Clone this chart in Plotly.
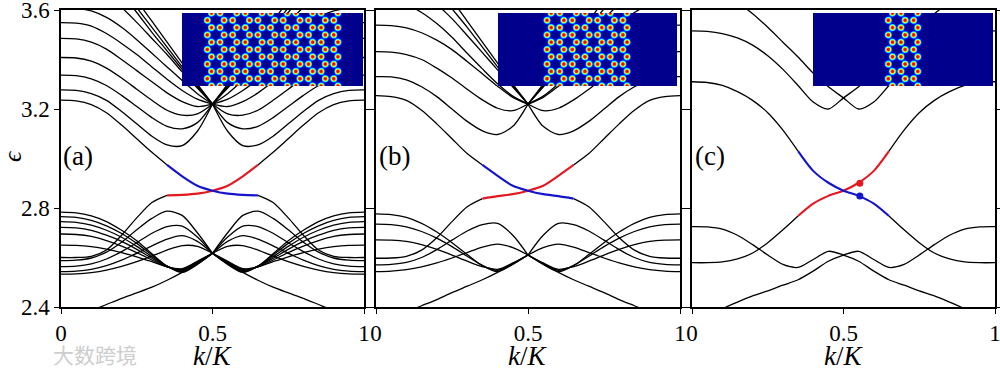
import numpy as np
import plotly.graph_objects as go

# ---------------- data ----------------
K_HALF = [0.0, 0.05, 0.1, 0.15, 0.2, 0.25, 0.3, 0.35, 0.4, 0.45, 0.5]
K_FULL = [0.0, 0.05, 0.1, 0.15, 0.2, 0.25, 0.3, 0.35, 0.4, 0.45, 0.5,
          0.55, 0.6, 0.65, 0.7, 0.75, 0.8, 0.85, 0.9, 0.95, 1.0]

# panel (a): bulk bands, left half (mirrored about k=0.5)
A_UPPER = [
    [3.277, 3.275, 3.262, 3.235, 3.19, 3.14, 3.09, 3.055, 3.052, 3.11, 3.22],
    [3.337, 3.335, 3.322, 3.295, 3.255, 3.21, 3.165, 3.13, 3.12, 3.145, 3.22],
    [3.408, 3.406, 3.393, 3.365, 3.325, 3.28, 3.235, 3.195, 3.175, 3.18, 3.22],
    [3.485, 3.483, 3.47, 3.442, 3.40, 3.355, 3.31, 3.265, 3.23, 3.21, 3.22],
    [3.549, 3.547, 3.535, 3.505, 3.465, 3.42, 3.37, 3.32, 3.275, 3.24, 3.22],
    [3.61, 3.607, 3.596, 3.57, 3.53, 3.48, 3.425, 3.37, 3.315, 3.262, 3.22],
    [3.70, 3.697, 3.685, 3.655, 3.61, 3.55, 3.485, 3.42, 3.35, 3.285, 3.22],
    [3.80, 3.79, 3.77, 3.73, 3.665, 3.59, 3.51, 3.435, 3.36, 3.29, 3.22],
    [3.85, 3.84, 3.82, 3.78, 3.70, 3.61, 3.53, 3.45, 3.37, 3.295, 3.22],
    [3.90, 3.89, 3.87, 3.83, 3.74, 3.64, 3.555, 3.47, 3.385, 3.30, 3.22],
]
A_LOWER = [
    [2.783, 2.780, 2.768, 2.745, 2.71, 2.668, 2.615, 2.565, 2.54, 2.572, 2.617],
    [2.765, 2.762, 2.75, 2.728, 2.697, 2.657, 2.61, 2.565, 2.543, 2.575, 2.617],
    [2.745, 2.742, 2.731, 2.71, 2.682, 2.645, 2.603, 2.565, 2.547, 2.578, 2.617],
    [2.722, 2.72, 2.71, 2.69, 2.665, 2.633, 2.597, 2.563, 2.55, 2.58, 2.617],
    [2.695, 2.693, 2.685, 2.668, 2.646, 2.62, 2.59, 2.562, 2.553, 2.583, 2.617],
    [2.650, 2.649, 2.644, 2.634, 2.62, 2.603, 2.583, 2.562, 2.555, 2.585, 2.617],
    [2.587, 2.589, 2.598, 2.622, 2.662, 2.712, 2.758, 2.787, 2.77, 2.70, 2.617],
    [2.563, 2.565, 2.574, 2.594, 2.624, 2.66, 2.698, 2.725, 2.727, 2.683, 2.617],
    [2.543, 2.545, 2.552, 2.567, 2.589, 2.617, 2.647, 2.674, 2.688, 2.665, 2.617],
    [2.533, 2.534, 2.539, 2.549, 2.564, 2.583, 2.606, 2.63, 2.648, 2.645, 2.617],
    [2.33, 2.35, 2.385, 2.41, 2.435, 2.457, 2.48, 2.508, 2.54, 2.575, 2.617],
]
# edge state rising with k (red); the falling one (blue) is its mirror
A_EDGE = [2.60, 2.60, 2.605, 2.63, 2.69, 2.76, 2.822, 2.851, 2.853, 2.858, 2.870,
          2.89, 2.928, 2.974, 3.025, 3.08, 3.135, 3.185, 3.218, 3.233, 3.236]

# panel (b)
B_UPPER = [
    [3.331, 3.33, 3.318, 3.29, 3.25, 3.20, 3.15, 3.112, 3.097, 3.13, 3.22],
    [3.432, 3.43, 3.42, 3.40, 3.365, 3.325, 3.28, 3.237, 3.203, 3.193, 3.22],
    [3.539, 3.537, 3.528, 3.508, 3.478, 3.44, 3.392, 3.342, 3.292, 3.247, 3.22],
    [3.64, 3.636, 3.622, 3.59, 3.545, 3.49, 3.425, 3.362, 3.302, 3.252, 3.22],
    [3.78, 3.77, 3.75, 3.70, 3.625, 3.565, 3.497, 3.428, 3.358, 3.289, 3.22],
    [3.82, 3.81, 3.79, 3.75, 3.68, 3.605, 3.53, 3.45, 3.37, 3.295, 3.22],
    [3.87, 3.86, 3.84, 3.80, 3.72, 3.64, 3.555, 3.47, 3.385, 3.30, 3.22],
]
B_LOWER = [
    [2.776, 2.773, 2.762, 2.738, 2.703, 2.66, 2.612, 2.567, 2.543, 2.572, 2.61],
    [2.735, 2.733, 2.724, 2.705, 2.678, 2.644, 2.605, 2.568, 2.548, 2.575, 2.61],
    [2.671, 2.67, 2.665, 2.652, 2.633, 2.61, 2.585, 2.563, 2.552, 2.578, 2.61],
    [2.570, 2.572, 2.58, 2.60, 2.632, 2.67, 2.707, 2.733, 2.738, 2.69, 2.61],
    [2.543, 2.545, 2.551, 2.562, 2.578, 2.598, 2.62, 2.642, 2.654, 2.64, 2.61],
    [2.33, 2.35, 2.38, 2.405, 2.43, 2.458, 2.484, 2.51, 2.54, 2.574, 2.61],
]
B_EDGE = [2.597, 2.598, 2.605, 2.63, 2.68, 2.745, 2.805, 2.838, 2.848, 2.856, 2.870,
          2.89, 2.93, 2.974, 3.02, 3.08, 3.14, 3.195, 3.235, 3.25, 3.254]

# panel (c): full-range bands; each has a mirror partner k -> 1-k
C_UPPER = [3.516, 3.514, 3.505, 3.487, 3.458, 3.415, 3.36, 3.295, 3.228, 3.2, 3.245,
           3.29, 3.345, 3.41, 3.47, 3.53, 3.585, 3.63, 3.66, 3.675, 3.68]
C_LOWER = [2.35, 2.37, 2.393, 2.42, 2.445, 2.465, 2.488, 2.51, 2.545, 2.585, 2.61,
           2.625, 2.592, 2.56, 2.572, 2.61, 2.652, 2.69, 2.715, 2.724, 2.725]
C_EDGE_DOWN = [3.31, 3.307, 3.295, 3.27, 3.235, 3.185, 3.115, 3.03, 2.95, 2.902, 2.87,
               2.849, 2.818, 2.768, 2.712, 2.66, 2.618, 2.594, 2.582, 2.579, 2.579]
C_DOT_K = 0.554
C_DOT_RED = 2.900
C_DOT_BLUE = 2.848

PANEL_LABELS = ["(a)", "(b)", "(c)"]
Y_TICKS = [2.4, 2.8, 3.2, 3.6]
Y_TICK_TEXT = ["2.4", "2.8", "3.2", "3.6"]
X_TICKS = [0, 0.5, 1]
X_TICK_TEXT = ["0", "0.5", "1"]
# lattice columns (pairs) shown in each inset
INSET_PAIRS = [11, 7, 3]

# ---------------- style ----------------
BLACK = "black"
RED = "rgb(228,24,32)"
BLUE = "rgb(20,20,205)"
LW = 1.3
LWC = 2.1
SERIF = "Liberation Serif, Times New Roman, serif"

W, H = 1000, 375
ML, MR, MT, MB = 61, 5, 10, 68
PW = W - ML - MR
PH = H - MT - MB


def px(xp):
    return (xp - ML) / PW


def py(yp):
    return (H - MB - yp) / PH


DOMAINS = [[px(61), px(364)], [px(376), px(680)], [px(692), px(995)]]
INSETS = [(182, 363, 13, 86, 207.3), (498, 677, 13, 86, 547.0), (813, 993, 13, 86, 888.3)]

fig = go.Figure()


def line(xs, ys, ax, color=BLACK, width=LW):
    fig.add_trace(go.Scatter(
        x=list(xs), y=list(ys), mode="lines", xaxis="x" + ax, yaxis="y" + ax,
        line=dict(color=color, width=width, shape="spline", smoothing=0.8),
        hoverinfo="skip", showlegend=False))


def half_band(ys, ax):
    line(K_HALF, ys, ax)
    line([1 - k for k in K_HALF], ys, ax)


def edge_pair(ys, ax, lo=7, hi=13, color_up=RED, color_down=BLUE):
    kf = K_FULL
    mk = [1 - k for k in kf]
    line(kf[:lo + 1], ys[:lo + 1], ax)
    line(kf[lo:hi + 1], ys[lo:hi + 1], ax, color_up, LWC)
    line(kf[hi:], ys[hi:], ax)
    line(mk[:lo + 1], ys[:lo + 1], ax)
    line(mk[lo:hi + 1], ys[lo:hi + 1], ax, color_down, LWC)
    line(mk[hi:], ys[hi:], ax)


axes_ids = ["", "2", "3"]

for b in A_UPPER + A_LOWER:
    half_band(b, "")
edge_pair(A_EDGE, "")
for b in B_UPPER + B_LOWER:
    half_band(b, "2")
edge_pair(B_EDGE, "2")
mirror = [1 - k for k in K_FULL]
for b in (C_UPPER, C_LOWER):
    line(K_FULL, b, "3")
    line(mirror, b, "3")
edge_pair(C_EDGE_DOWN[::-1], "3", lo=7, hi=13)
fig.add_trace(go.Scatter(x=[C_DOT_K], y=[C_DOT_RED], mode="markers", xaxis="x3", yaxis="y3",
                         marker=dict(color=RED, size=7), hoverinfo="skip", showlegend=False))
fig.add_trace(go.Scatter(x=[C_DOT_K], y=[C_DOT_BLUE], mode="markers", xaxis="x3", yaxis="y3",
                         marker=dict(color=BLUE, size=7), hoverinfo="skip", showlegend=False))


# insets: honeycomb ribbon field pattern (image)
def lattice_image(width, height, col0, npairs, a=14.6):
    xs = np.arange(width) + 0.5
    ys = np.arange(height) + 0.5
    X, Y = np.meshgrid(xs, ys)
    Z = np.zeros_like(X)
    hcol = a * np.sqrt(3) / 2
    for n in range(npairs):
        for cx, yoff in ((col0 + n * hcol, (n - 1) * a / 2), (col0 + n * hcol + 4.2, n * a / 2)):
            base = yoff % a
            for m in range(-2, int(height / a) + 3):
                cy = base + m * a
                r = np.sqrt((X - cx) ** 2 + (Y - cy) ** 2)
                Z += np.exp(-(r / 3.2) ** 3)
    return xs, ys, Z


JET = [[0, "rgb(0,0,140)"], [0.125, "rgb(0,0,255)"], [0.375, "rgb(0,255,255)"],
       [0.625, "rgb(255,255,0)"], [0.875, "rgb(255,0,0)"], [1, "rgb(128,0,0)"]]

for i, (x0, x1, y0, y1, c0) in enumerate(INSETS):
    wpx, hpx = x1 - x0, y1 - y0
    xs, ys, Z = lattice_image(wpx, hpx, c0 - x0, INSET_PAIRS[i])
    n = str(4 + i)
    fig.add_trace(go.Heatmap(x=xs, y=ys, z=Z, colorscale=JET, zmin=0, zmax=1.12,
                             showscale=False, xaxis="x" + n, yaxis="y" + n, hoverinfo="skip"))
    fig.layout["xaxis" + n] = dict(domain=[px(x0), px(x1)], range=[0, wpx], visible=False,
                                   anchor="y" + n, fixedrange=True, automargin=False)
    fig.layout["yaxis" + n] = dict(domain=[py(y1), py(y0)], range=[hpx, 0], visible=False,
                                   anchor="x" + n, fixedrange=True, automargin=False)

for i, ax in enumerate(axes_ids):
    fig.layout["xaxis" + ax] = dict(
        domain=DOMAINS[i], range=[0, 1], tickvals=X_TICKS, ticktext=X_TICK_TEXT,
        ticks="outside", ticklen=5, tickwidth=1.2, tickcolor="black",
        showline=True, linecolor="black", linewidth=1.5, mirror=True,
        showgrid=False, zeroline=False, anchor="y" + ax, automargin=False,
        ticklabeloverflow="allow",
        tickfont=dict(family=SERIF, size=23, color="black"))
    fig.layout["yaxis" + ax] = dict(
        domain=[0, 1], range=[2.4, 3.6], tickvals=Y_TICKS,
        ticktext=Y_TICK_TEXT if i == 0 else ["", "", "", ""],
        ticks="outside", ticklen=5, tickwidth=1.2, tickcolor="black",
        showline=True, linecolor="black", linewidth=1.5, mirror="ticks",
        showgrid=False, zeroline=False, anchor="x" + ax, automargin=False,
        ticklabeloverflow="allow",
        tickfont=dict(family=SERIF, size=23, color="black"))

annotations = []
for i, lab in enumerate(PANEL_LABELS):
    xl = [78, 394, 710][i]
    annotations.append(dict(text=lab, x=px(xl), y=py(156), xref="paper", yref="paper",
                            xanchor="center", yanchor="middle",
                            showarrow=False, font=dict(family=SERIF, size=27, color="black")))
    xc = (DOMAINS[i][0] + DOMAINS[i][1]) / 2
    annotations.append(dict(text="<i>k</i>/<i>K</i>", x=xc, y=py(356), xref="paper", yref="paper",
                            xanchor="center", yanchor="middle",
                            showarrow=False, font=dict(family=SERIF, size=27, color="black")))
annotations.append(dict(text="<i>ϵ</i>", x=px(12), y=py(156), xref="paper", yref="paper",
                        xanchor="center", yanchor="middle",
                        textangle=-90, showarrow=False,
                        font=dict(family=SERIF, size=26, color="black")))
annotations.append(dict(text="大数跨境", x=px(95), y=py(354), xref="paper", yref="paper",
                        xanchor="center", yanchor="middle",
                        showarrow=False,
                        font=dict(family="Noto Sans CJK SC", size=21, color="rgb(205,205,205)")))

fig.update_layout(width=W, height=H, margin=dict(l=ML, r=MR, t=MT, b=MB, autoexpand=False),
                  paper_bgcolor="white", plot_bgcolor="white",
                  annotations=annotations, showlegend=False)

fig.write_html("out.html", config={"displayModeBar": False},
               post_script="document.body.style.margin='0px';")
